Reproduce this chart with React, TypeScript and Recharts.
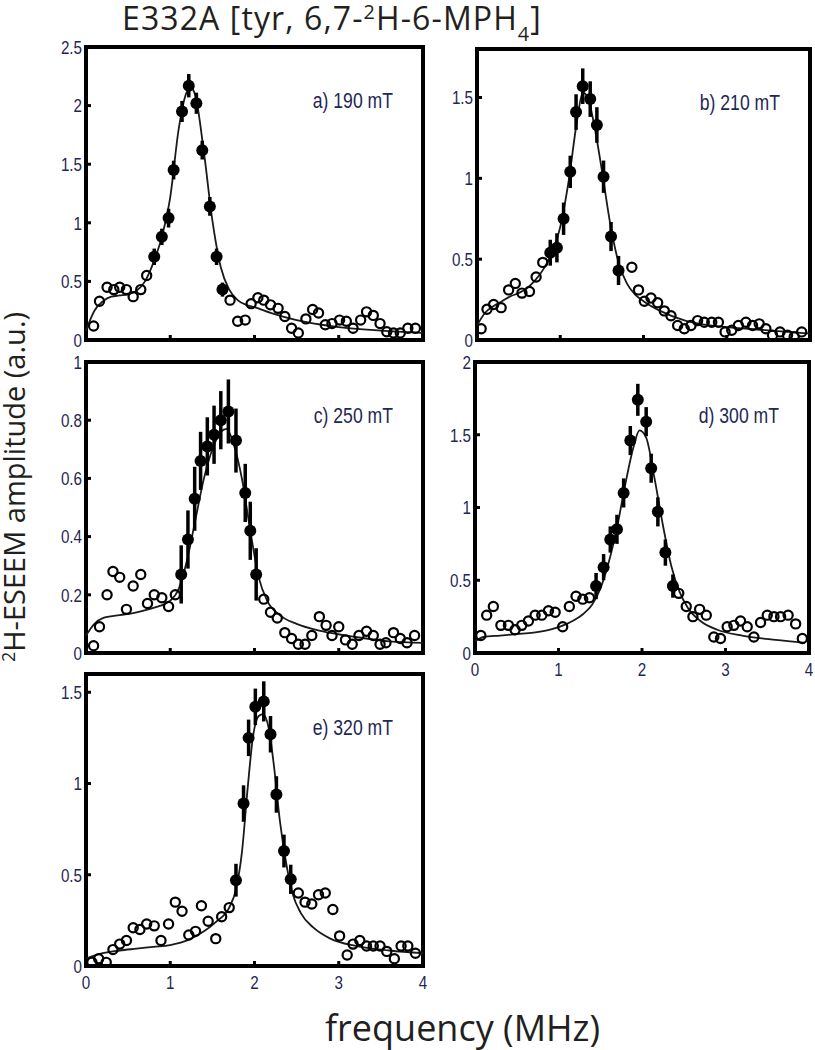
import React from 'react';
import { ComposedChart, Scatter, Line, XAxis, YAxis, ErrorBar, ReferenceArea } from 'recharts';

// x axis (MHz), shared by all panels
const freqTicks = [0, 1, 2, 3, 4];
const innerTicks = [1, 2, 3];

// a) 190 mT
const aOpen = [
  [0.09, 0.12], [0.16, 0.33], [0.25, 0.45], [0.33, 0.43], [0.4, 0.45], [0.48, 0.43], [0.56, 0.37],
  [0.65, 0.43], [0.72, 0.55], [1.71, 0.34], [1.8, 0.16], [1.89, 0.17], [1.96, 0.31], [2.04, 0.36],
  [2.11, 0.34], [2.19, 0.3], [2.28, 0.27], [2.36, 0.2], [2.44, 0.1], [2.52, 0.06], [2.61, 0.18],
  [2.69, 0.26], [2.76, 0.23], [2.84, 0.13], [2.92, 0.14], [3.01, 0.17], [3.09, 0.16], [3.17, 0.1],
  [3.26, 0.17], [3.33, 0.24], [3.41, 0.21], [3.49, 0.14], [3.57, 0.07], [3.65, 0.06], [3.73, 0.06],
  [3.82, 0.1], [3.91, 0.1],
];
const aFilled = [
  [0.81, 0.71, 0.07], [0.9, 0.88, 0.07], [0.98, 1.04, 0.08], [1.04, 1.45, 0.08], [1.14, 1.95, 0.09],
  [1.22, 2.17, 0.1], [1.31, 2.02, 0.09], [1.38, 1.62, 0.08], [1.47, 1.14, 0.08], [1.55, 0.71, 0.07],
  [1.62, 0.43, 0.06],
];
const aFit = [
  [0, 0.08], [0.1, 0.25], [0.2, 0.33], [0.3, 0.37], [0.4, 0.38], [0.5, 0.39], [0.6, 0.42], [0.7, 0.5],
  [0.8, 0.66], [0.9, 0.88], [1.0, 1.22], [1.1, 1.8], [1.2, 2.12], [1.25, 2.15], [1.3, 2.08], [1.4, 1.6],
  [1.5, 1.02], [1.6, 0.62], [1.7, 0.43], [1.8, 0.34], [1.9, 0.3], [2.0, 0.28], [2.2, 0.23], [2.5, 0.17],
  [2.8, 0.13], [3.0, 0.11], [3.5, 0.08], [4.0, 0.06],
];

// b) 210 mT
const bOpen = [
  [0.05, 0.07], [0.12, 0.19], [0.2, 0.22], [0.29, 0.2], [0.38, 0.31], [0.46, 0.35], [0.54, 0.29],
  [0.63, 0.3], [0.71, 0.39], [0.79, 0.48], [1.86, 0.45], [1.94, 0.31], [2.01, 0.24], [2.09, 0.26],
  [2.17, 0.23], [2.25, 0.18], [2.33, 0.15], [2.41, 0.09], [2.49, 0.07], [2.57, 0.09], [2.65, 0.12],
  [2.73, 0.11], [2.82, 0.11], [2.9, 0.11], [2.98, 0.05], [3.06, 0.06], [3.14, 0.09], [3.23, 0.11],
  [3.31, 0.09], [3.39, 0.1], [3.47, 0.07], [3.55, 0.03], [3.64, 0.05], [3.73, 0.03], [3.81, 0.02],
  [3.9, 0.05],
];
const bFilled = [
  [0.88, 0.54, 0.08], [0.96, 0.57, 0.09], [1.04, 0.75, 0.1], [1.12, 1.04, 0.1], [1.19, 1.41, 0.11],
  [1.27, 1.57, 0.11], [1.36, 1.49, 0.11], [1.44, 1.33, 0.11], [1.52, 1.01, 0.1], [1.61, 0.64, 0.09],
  [1.7, 0.43, 0.09],
];
const bFit = [
  [0, 0.09], [0.1, 0.17], [0.2, 0.21], [0.3, 0.24], [0.4, 0.27], [0.5, 0.29], [0.6, 0.32], [0.7, 0.37],
  [0.8, 0.44], [0.9, 0.54], [1.0, 0.7], [1.1, 0.98], [1.2, 1.35], [1.27, 1.53], [1.33, 1.5], [1.4, 1.35],
  [1.5, 1.05], [1.6, 0.72], [1.7, 0.48], [1.8, 0.35], [1.9, 0.28], [2.0, 0.24], [2.2, 0.18], [2.5, 0.12],
  [2.8, 0.09], [3.0, 0.08], [3.5, 0.06], [4.0, 0.04],
];

// c) 250 mT
const cOpen = [
  [0.09, 0.025], [0.16, 0.09], [0.25, 0.2], [0.32, 0.28], [0.4, 0.26], [0.48, 0.15], [0.56, 0.23],
  [0.65, 0.27], [0.73, 0.17], [0.81, 0.2], [0.9, 0.19], [0.98, 0.16], [1.06, 0.2], [2.11, 0.185],
  [2.19, 0.14], [2.27, 0.12], [2.36, 0.07], [2.44, 0.05], [2.52, 0.03], [2.6, 0.03], [2.68, 0.06],
  [2.77, 0.125], [2.85, 0.095], [2.92, 0.06], [3.0, 0.09], [3.08, 0.045], [3.16, 0.03], [3.24, 0.06],
  [3.33, 0.075], [3.41, 0.06], [3.49, 0.03], [3.56, 0.035], [3.65, 0.07], [3.73, 0.05], [3.81, 0.035],
  [3.9, 0.06],
];
const cFilled = [
  [1.13, 0.27, 0.1], [1.21, 0.39, 0.1], [1.29, 0.53, 0.11], [1.36, 0.66, 0.1], [1.44, 0.71, 0.1],
  [1.52, 0.75, 0.1], [1.6, 0.8, 0.1], [1.69, 0.83, 0.11], [1.78, 0.73, 0.11], [1.89, 0.55, 0.1],
  [1.95, 0.42, 0.1], [2.02, 0.27, 0.09],
];
const cFit = [
  [0, 0.06], [0.1, 0.1], [0.2, 0.12], [0.4, 0.13], [0.6, 0.14], [0.8, 0.155], [1.0, 0.18], [1.1, 0.22],
  [1.2, 0.32], [1.3, 0.46], [1.4, 0.6], [1.5, 0.7], [1.6, 0.76], [1.67, 0.77], [1.75, 0.72], [1.85, 0.6],
  [1.95, 0.42], [2.05, 0.26], [2.15, 0.18], [2.3, 0.13], [2.5, 0.1], [2.8, 0.075], [3.2, 0.055],
  [3.6, 0.04], [4.0, 0.035],
];

// d) 300 mT
const dOpen = [
  [0.07, 0.12], [0.14, 0.26], [0.22, 0.32], [0.31, 0.19], [0.4, 0.19], [0.48, 0.16], [0.56, 0.19],
  [0.64, 0.22], [0.72, 0.26], [0.8, 0.26], [0.88, 0.29], [0.96, 0.28], [1.05, 0.18], [1.13, 0.32],
  [1.21, 0.39], [1.29, 0.37], [1.37, 0.38], [2.44, 0.41], [2.53, 0.32], [2.61, 0.25], [2.69, 0.3],
  [2.77, 0.26], [2.86, 0.11], [2.94, 0.1], [3.02, 0.18], [3.1, 0.19], [3.18, 0.22], [3.26, 0.18],
  [3.34, 0.11], [3.42, 0.21], [3.5, 0.26], [3.58, 0.25], [3.66, 0.25], [3.75, 0.26], [3.84, 0.2],
  [3.92, 0.1],
];
const dFilled = [
  [1.45, 0.46, 0.09], [1.54, 0.59, 0.09], [1.62, 0.78, 0.09], [1.7, 0.85, 0.1], [1.78, 1.1, 0.1],
  [1.86, 1.46, 0.1], [1.95, 1.74, 0.11], [2.05, 1.59, 0.1], [2.11, 1.27, 0.1], [2.19, 0.97, 0.1],
  [2.28, 0.69, 0.09], [2.37, 0.46, 0.08],
];
const dFit = [
  [0, 0.08], [0.1, 0.11], [0.3, 0.12], [0.5, 0.13], [0.7, 0.14], [0.9, 0.16], [1.1, 0.2], [1.2, 0.23],
  [1.3, 0.27], [1.4, 0.33], [1.5, 0.44], [1.6, 0.62], [1.7, 0.86], [1.8, 1.16], [1.9, 1.42], [1.97, 1.53],
  [2.05, 1.48], [2.15, 1.2], [2.25, 0.88], [2.35, 0.6], [2.45, 0.42], [2.55, 0.31], [2.7, 0.22],
  [2.9, 0.16], [3.2, 0.12], [3.6, 0.09], [3.95, 0.07],
];

// e) 320 mT
const eOpen = [
  [0.07, 0.02], [0.15, 0.04], [0.24, 0.02], [0.32, 0.09], [0.4, 0.12], [0.48, 0.14], [0.56, 0.21],
  [0.64, 0.2], [0.72, 0.23], [0.81, 0.22], [0.89, 0.14], [0.98, 0.23], [1.06, 0.35], [1.14, 0.3],
  [1.22, 0.17], [1.3, 0.19], [1.37, 0.33], [1.45, 0.245], [1.54, 0.15], [1.61, 0.27], [1.7, 0.32],
  [2.52, 0.4], [2.6, 0.35], [2.68, 0.34], [2.76, 0.39], [2.84, 0.4], [2.93, 0.31], [3.01, 0.165],
  [3.1, 0.06], [3.17, 0.12], [3.25, 0.14], [3.33, 0.11], [3.41, 0.11], [3.49, 0.11], [3.57, 0.08],
  [3.66, 0.04], [3.74, 0.11], [3.82, 0.11], [3.91, 0.07],
];
const eFilled = [
  [1.78, 0.47, 0.09], [1.87, 0.89, 0.1], [1.93, 1.25, 0.1], [2.01, 1.42, 0.1], [2.11, 1.45, 0.11],
  [2.19, 1.27, 0.1], [2.26, 0.94, 0.1], [2.35, 0.63, 0.09], [2.43, 0.475, 0.08],
];
const eFit = [
  [0, 0.04], [0.2, 0.07], [0.4, 0.085], [0.6, 0.095], [0.8, 0.105], [1.0, 0.115], [1.2, 0.14], [1.4, 0.19],
  [1.55, 0.245], [1.7, 0.32], [1.78, 0.42], [1.85, 0.62], [1.92, 0.98], [1.98, 1.25], [2.05, 1.37],
  [2.1, 1.38], [2.17, 1.3], [2.23, 1.1], [2.3, 0.8], [2.37, 0.58], [2.45, 0.4], [2.55, 0.29], [2.7, 0.21],
  [2.9, 0.15], [3.2, 0.11], [3.6, 0.085], [4.0, 0.07],
];

// condensed look: Liberation Sans squeezed horizontally
const narrow = "'Liberation Sans', Arial, sans-serif";
const inkBlue = '#1f2755';
const tickLn = { stroke: '#000', strokeWidth: 3 };
const noTick = () => <g />;

const YTick = (p: any) => (
  <text transform={`translate(${p.x},${p.y}) scale(0.8,1)`} textAnchor="end" dy="0.36em"
    fill={inkBlue} fontSize={19} fontFamily={narrow}>{p.payload.value}</text>
);
const XTick = (p: any) => (
  <text transform={`translate(${p.x},${p.y}) scale(0.8,1)`} textAnchor="middle" dy="0.71em"
    fill={inkBlue} fontSize={19} fontFamily={narrow}>{p.payload.value}</text>
);

const OpenDot = (p: any) => <circle cx={p.cx} cy={p.cy} r={4.6} fill="none" stroke="#000" strokeWidth={2.2} />;
const FilledDot = (p: any) => <circle cx={p.cx} cy={p.cy} r={6} fill="#000" />;

type PanelProps = {
  left: number; top: number; w: number; h: number;
  yMax: number; yTicks: number[];
  open: number[][]; filled: number[][]; fit: number[][];
  label: string; showX: boolean;
};

function Panel({ left, top, w, h, yMax, yTicks, open, filled, fit, label, showX }: PanelProps) {
  const openData = open.map(([x, y]) => ({ x, y }));
  const filledData = filled.map(([x, y, e]) => ({ x, y, e }));
  const fitData = fit.map(([x, y]) => ({ x, y }));
  return (
    <>
      <div style={{ position: 'absolute', left: left - 50, top: top - 10 }}>
        <ComposedChart width={w + 54} height={h + 40} margin={{ top: 10, right: 4, bottom: 0, left: 0 }}>
          <XAxis dataKey="x" type="number" domain={[0, 4]} ticks={freqTicks} height={30}
            axisLine={false} tickSize={-5} tickMargin={15} tickLine={tickLn}
            tick={showX ? XTick : noTick} />
          <XAxis xAxisId="top" orientation="top" type="number" domain={[0, 4]} ticks={innerTicks} height={0}
            axisLine={false} tickSize={-5} tickLine={tickLn} tick={noTick} />
          <YAxis type="number" domain={[0, yMax]} ticks={yTicks} width={50} allowDataOverflow
            axisLine={false} tickSize={-5} tickMargin={9} tickLine={tickLn} tick={YTick} />
          <YAxis yAxisId="right" orientation="right" type="number" domain={[0, yMax]} ticks={yTicks} width={0}
            axisLine={false} tickSize={-5} tickLine={tickLn} tick={noTick} />
          <Line data={fitData} dataKey="y" type="monotone" stroke="#1a1a1a" strokeWidth={1.8}
            dot={false} isAnimationActive={false} />
          <Scatter data={openData} dataKey="y" shape={OpenDot} isAnimationActive={false} />
          <Scatter data={filledData} dataKey="y" shape={FilledDot} isAnimationActive={false}>
            <ErrorBar dataKey="e" direction="y" width={0} stroke="#000" strokeWidth={3.5} />
          </Scatter>
          <ReferenceArea x1={0} x2={4} y1={0} y2={yMax} fill="none" stroke="#000" strokeWidth={4}
            ifOverflow="visible" />
        </ComposedChart>
      </div>
      <div style={{
        position: 'absolute', left: left + w - 230, width: 200, top: top + 41, textAlign: 'right',
        fontFamily: narrow, fontSize: 22, lineHeight: '26px', color: inkBlue, whiteSpace: 'nowrap',
        transform: 'scaleX(0.8)', transformOrigin: 'right center',
      }}>{label}</div>
    </>
  );
}

const supStyle = { fontSize: '0.62em', position: 'relative' as const, top: '-0.55em' };

export default function App() {
  return (
    <div style={{ position: 'absolute', left: 0, top: 0, width: 815, height: 1050, background: '#fff', overflow: 'hidden' }}>
      <div style={{
        position: 'absolute', left: 122, top: 1, fontFamily: "'Open Sans', sans-serif", fontSize: 32,
        lineHeight: '34px', color: '#231f20', whiteSpace: 'nowrap', letterSpacing: 1.1,
      }}>
        E332A [tyr, 6,7-<span style={supStyle}>2</span>H-6-MPH
        <span style={{ fontSize: '0.62em', position: 'relative', top: '0.55em' }}>4</span>]
      </div>
      <div style={{
        position: 'absolute', left: 14 - 250, top: 487 - 18, width: 500, height: 36, lineHeight: '36px',
        textAlign: 'center', transform: 'rotate(-90deg)', fontFamily: "'Open Sans', sans-serif", fontSize: 29,
        color: '#231f20', whiteSpace: 'nowrap',
      }}>
        <span style={supStyle}>2</span>H-ESEEM amplitude (a.u.)
      </div>
      <div style={{
        position: 'absolute', left: 325, top: 1010, fontFamily: "'Open Sans', sans-serif", fontSize: 36,
        lineHeight: 1, color: '#231f20', whiteSpace: 'nowrap',
      }}>frequency (MHz)</div>

      <Panel left={86} top={47} w={337} h={293} yMax={2.5} yTicks={[0, 0.5, 1, 1.5, 2, 2.5]}
        open={aOpen} filled={aFilled} fit={aFit} label="a) 190 mT" showX={false} />
      <Panel left={477} top={49} w={333} h={291} yMax={1.8} yTicks={[0, 0.5, 1, 1.5]}
        open={bOpen} filled={bFilled} fit={bFit} label="b) 210 mT" showX={false} />
      <Panel left={86} top={362} w={337} h={291} yMax={1} yTicks={[0, 0.2, 0.4, 0.6, 0.8, 1]}
        open={cOpen} filled={cFilled} fit={cFit} label="c) 250 mT" showX={false} />
      <Panel left={475} top={362} w={334} h={291} yMax={2} yTicks={[0, 0.5, 1, 1.5, 2]}
        open={dOpen} filled={dFilled} fit={dFit} label="d) 300 mT" showX={true} />
      <Panel left={86} top={674} w={337} h={292} yMax={1.6} yTicks={[0, 0.5, 1, 1.5]}
        open={eOpen} filled={eFilled} fit={eFit} label="e) 320 mT" showX={true} />
    </div>
  );
}
